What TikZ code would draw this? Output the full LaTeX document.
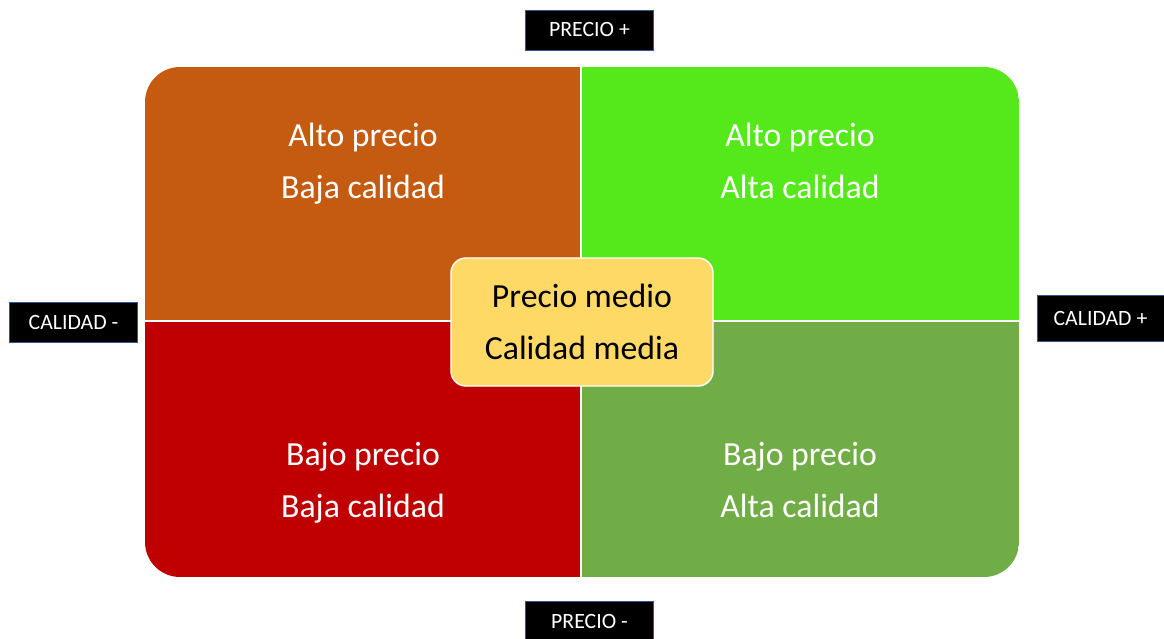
\documentclass[tikz,border=0pt]{standalone}
\usepackage{fontspec}
\setmainfont{Carlito}
\definecolor{naranja}{HTML}{C55A11}
\definecolor{verdevivo}{HTML}{55E81B}
\definecolor{rojo}{HTML}{C00000}
\definecolor{verde}{HTML}{70AD47}
\definecolor{amarillo}{HTML}{FFD966}
\definecolor{azul}{HTML}{2F5597}

\begin{document}
\begin{tikzpicture}[x=0.025cm,y=-0.025cm,
  etiqueta/.style={fill=black,draw=azul,line width=0.7pt,text=white,inner sep=0pt,
    minimum width=3.175cm,minimum height=1cm,font=\fontsize{15.5}{18}\selectfont},
  cuadro/.style={text=white,align=center,font=\fontsize{24}{37}\selectfont}]
  \useasboundingbox (0,0) rectangle (1164,638);
  \begin{scope}
    \clip[rounded corners=0.875cm] (145,67) rectangle (1019,577);
    \fill[naranja] (145,67) rectangle (581,321);
    \fill[verdevivo] (581,67) rectangle (1019,321);
    \fill[rojo] (145,321) rectangle (581,577);
    \fill[verde] (581,321) rectangle (1019,577);
    \draw[white,line width=1.4pt] (581,67) -- (581,577);
    \draw[white,line width=1.4pt] (145,321) -- (1019,321);
  \end{scope}
  \node[cuadro] (ab) at (363,164) {Alto precio\\Baja calidad};
  \node[cuadro] (aa) at (800,161) {Alto precio\\Alta calidad};
  \node[cuadro] (bb) at (363,483) {Bajo precio\\Baja calidad};
  \node[cuadro] (ba) at (800,480) {Bajo precio\\Alta calidad};
  \node[cuadro,text=black,fill=amarillo,draw=white,line width=1pt,rounded corners=0.375cm,
    minimum width=6.55cm,minimum height=3.2cm] (medio) at (582,322) {Precio medio\\Calidad media};
  \node[etiqueta] (pmas) at (589.5,30) {PRECIO +};
  \node[etiqueta] (pmenos) at (589.5,621) {PRECIO -};
  \node[etiqueta] (cmenos) at (73.5,322) {CALIDAD -};
  \node[etiqueta,minimum height=1.15cm] (cmas) at (1100.5,318) {CALIDAD +};
\end{tikzpicture}
\end{document}
